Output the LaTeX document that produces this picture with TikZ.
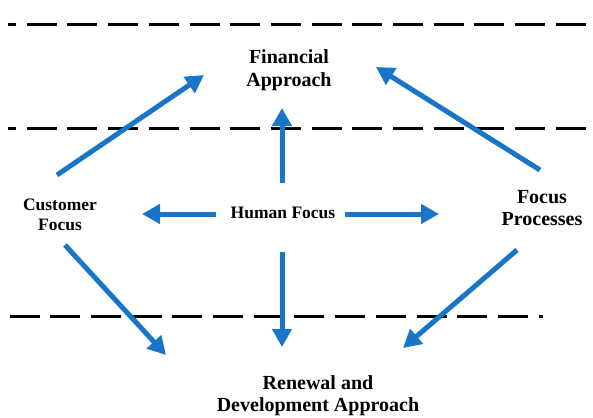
\documentclass[tikz,border=0pt]{standalone}
\usepackage{fontspec}
\setmainfont{Liberation Serif}
\usetikzlibrary{arrows.meta}
\definecolor{flowblue}{RGB}{24,117,199}
\begin{document}
\begin{tikzpicture}[x=1pt,y=-1pt,
  divider/.style={line width=3pt,black,dash pattern=on 30pt off 10.7pt},
  flow/.style={line width=5pt,flowblue,-{Triangle[length=18pt,width=19pt]}},
  bigtext/.style={align=center,inner sep=0pt,font=\bfseries\fontsize{20}{22.5}\selectfont},
  smalltext/.style={align=center,inner sep=0pt,font=\bfseries\fontsize{17.5}{20}\selectfont}]
  \useasboundingbox (0,0) rectangle (593,417);

  % dashed dividers
  \draw[divider,dash phase=22pt] (8,25) -- (593,25);
  \draw[divider,dash phase=22pt] (8,128) -- (593,128);
  \draw[divider] (9.5,316) -- (543,316);

  % labels
  \node[bigtext] (fin) at (289,70) {Financial\\Approach};
  \node[smalltext] (cust) at (60,215) {Customer\\Focus};
  \node[smalltext] (hum) at (283,213) {Human Focus};
  \node[bigtext] (proc) at (542,208) {Focus\\Processes};
  \node[bigtext] (ren) at (318,395.5) {Renewal and\\Development Approach};

  % arrow end points
  \coordinate (cUpS) at (57,175);   \coordinate (cUpE) at (204,75);
  \coordinate (pUpS) at (540,170);  \coordinate (pUpE) at (376,67);
  \coordinate (hUpS) at (282,183);  \coordinate (hUpE) at (282,108);
  \coordinate (hLS) at (216,214);   \coordinate (hLE) at (142,214);
  \coordinate (hRS) at (345,214);   \coordinate (hRE) at (439,214);
  \coordinate (hDnS) at (282,252);  \coordinate (hDnE) at (282,347);
  \coordinate (cDnS) at (65,245);   \coordinate (cDnE) at (166,355);
  \coordinate (pDnS) at (517,250);  \coordinate (pDnE) at (403,348);

  % arrows
  \draw[flow] (cUpS) -- (cUpE);
  \draw[flow] (pUpS) -- (pUpE);
  \draw[flow] (hUpS) -- (hUpE);
  \draw[flow] (hLS) -- (hLE);
  \draw[flow] (hRS) -- (hRE);
  \draw[flow] (hDnS) -- (hDnE);
  \draw[flow] (cDnS) -- (cDnE);
  \draw[flow] (pDnS) -- (pDnE);
\end{tikzpicture}
\end{document}
